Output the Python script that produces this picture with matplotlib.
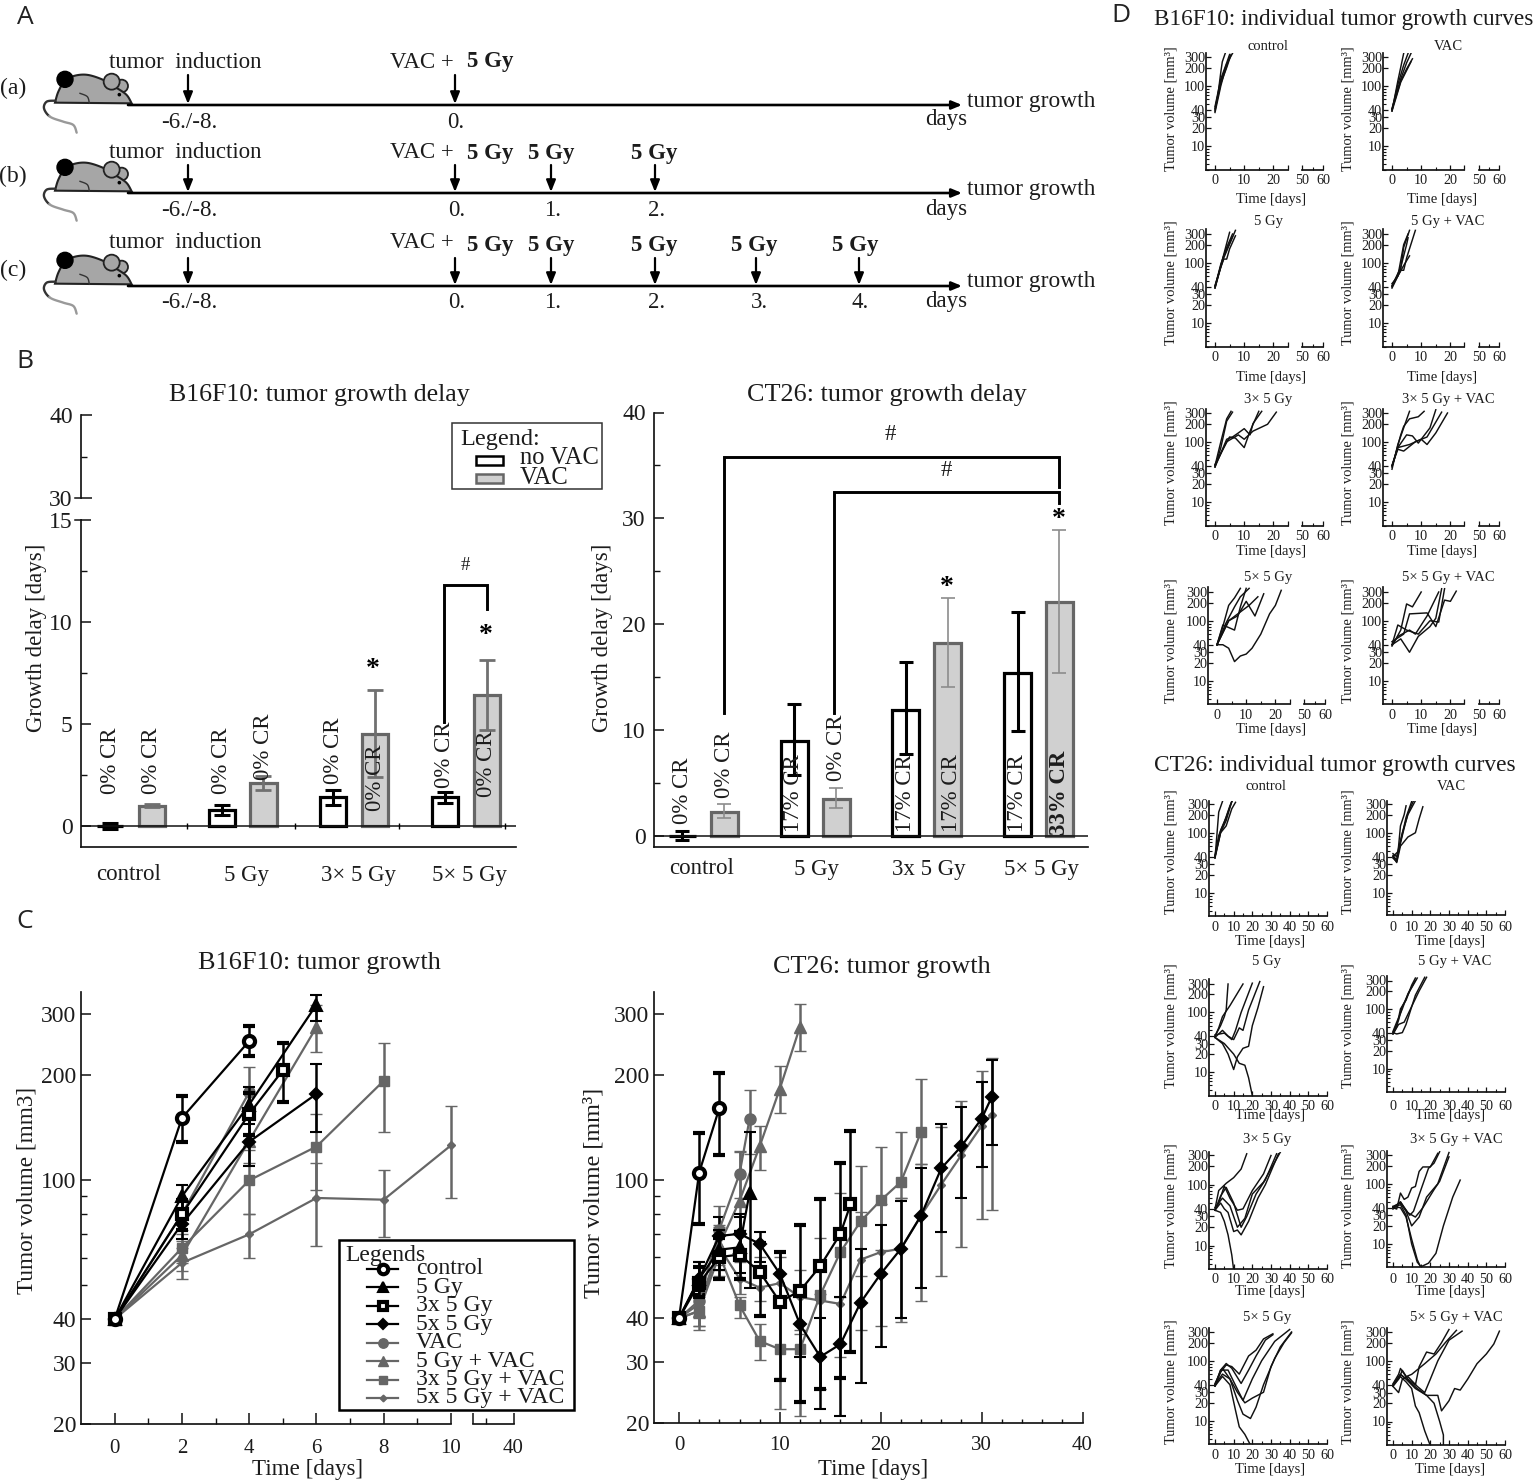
import numpy as np
import matplotlib
matplotlib.use('Agg')
import matplotlib.pyplot as plt
from matplotlib.patches import Polygon, Circle, Rectangle
from matplotlib.ticker import FixedLocator, FixedFormatter, NullFormatter

plt.rcParams['font.family'] = ['Liberation Serif', 'DejaVu Serif']
plt.rcParams['mathtext.fontset'] = 'stix'

W, H = 1535, 1481
INK = '#1c1c1c'
GRAY = '#666666'
plt.rcParams.update({'text.color': INK, 'axes.labelcolor': INK, 'xtick.labelcolor': INK,
                     'ytick.labelcolor': INK, 'axes.edgecolor': '#111111',
                     'xtick.color': '#111111', 'ytick.color': '#111111'})

# ---------------- DATA: growth delay (panel B) ----------------
groups_b16 = ['control', '5 Gy', '3× 5 Gy', '5× 5 Gy']
groups_ct26 = ['control', '5 Gy', '3x 5 Gy', '5× 5 Gy']
b16_novac = [0.0, 0.8, 1.4, 1.4]
b16_novac_lo = [-0.15, 0.55, 1.05, 1.15]
b16_novac_hi = [0.15, 1.05, 1.75, 1.65]
b16_vac = [1.0, 2.1, 4.5, 6.4]
b16_vac_lo = [0.93, 1.75, 2.4, 4.7]
b16_vac_hi = [1.07, 2.45, 6.65, 8.15]
b16_cr_novac = ['0% CR', '0% CR', '0% CR', '0% CR']
b16_cr_vac = ['0% CR', '0% CR', '0% CR', '0% CR']
b16_cr_novac_y = [1.55, 1.55, 2.05, 1.85]
b16_cr_vac_y = [1.55, 2.25, 0.75, 1.4]
ct_novac = [0.0, 9.0, 11.9, 15.4]
ct_novac_lo = [-0.4, 5.75, 7.7, 9.9]
ct_novac_hi = [0.45, 12.5, 16.4, 21.2]
ct_vac = [2.3, 3.5, 18.2, 22.1]
ct_vac_lo = [1.7, 2.65, 14.1, 15.4]
ct_vac_hi = [3.0, 4.5, 22.5, 28.9]
ct_cr_novac = ['0% CR', '17% CR', '17% CR', '17% CR']
ct_cr_vac = ['0% CR', '0% CR', '17% CR', '33% CR']
ct_cr_novac_y = [1.1, 0.4, 0.35, 0.35]
ct_cr_vac_y = [3.6, 5.2, 0.35, 0.1]

# ---------------- DATA: mean tumour growth (panel C) ----------------
names = ['control', '5 Gy', '3x 5 Gy', '5x 5 Gy', 'VAC', '5 Gy + VAC', '3x 5 Gy + VAC', '5x 5 Gy + VAC']
b_t = [[0, 2, 4], [0, 2, 4, 6], [0, 2, 4, 5], [0, 2, 4, 6], [0, 2, 4], [0, 2, 4, 6], [0, 2, 4, 6, 8], [0, 2, 4, 6, 8, 10]]
b_v = [[40, 151, 251], [40, 90, 165, 319], [40, 80, 155, 207], [40, 75, 129, 177],
       [40, 80, 179], [40, 61, 130, 275], [40, 64, 100, 125, 193], [40, 58, 70, 89, 88, 126]]
b_lo = [[39, 129, 227], [39, 79, 145, 286], [39, 72, 135, 168], [39, 68, 110, 138],
        [39, 72, 150], [39, 55, 112, 233], [39, 58, 80, 94, 138], [39, 52, 60, 65, 69, 89]]
b_hi = [[41, 174, 277], [41, 97, 185, 340], [41, 88, 178, 247], [41, 83, 155, 215],
        [41, 88, 212], [41, 67, 155, 319], [41, 70, 122, 155, 248], [41, 64, 80, 112, 107, 163]]
t_long = [0, 2, 4, 6, 8, 10, 12, 14, 16, 18, 20, 22, 24, 26, 28, 30, 31]
c_t = [[0, 2, 4], [0, 2, 4, 6, 7], [0, 2, 4, 6, 8, 10, 12, 14, 16, 17], t_long,
       [0, 2, 4, 6, 7], [0, 2, 4, 6, 8, 10, 12], [0, 2, 4, 6, 8, 10, 12, 14, 16, 18, 20, 22, 24], t_long]
c_v = [[40, 105, 161], [40, 52, 63, 64, 92], [40, 50.5, 60, 61, 54.4, 44.6, 48, 56.5, 70, 85],
       [40, 52, 69, 70, 65.5, 53.7, 38.4, 31, 33.7, 44.4, 53.7, 63.4, 79, 108, 125, 150, 173],
       [40, 45, 72, 104, 150], [40, 42, 65, 87, 125, 183, 276],
       [40, 42, 61, 43.6, 34.4, 32.6, 32.6, 46.7, 62, 76, 87.4, 98.7, 137.5],
       [40, 44, 64, 52, 49, 50.5, 46, 45, 44, 59, 62, 63.4, 79, 97, 118, 143, 154]]
c_lo = [[39, 74.5, 118], [39, 48, 55, 54, 49], [39, 46, 52, 52, 40.5, 26.6, 23, 25, 27, 32],
        [39, 47, 60, 62, 58, 45, 31, 22, 21, 26, 33, 40, 49, 71, 89, 109, 126],
        [39, 40, 61, 89, 119], [39, 38, 57, 72, 107, 156, 235],
        [39, 37, 53, 40, 30.3, 22, 21, 25, 46, 53, 63, 89, 111],
        [39, 38, 55, 47, 45, 27, 36, 25, 31, 37, 38, 39, 45, 53, 64, 77, 82]]
c_hi = [[41, 136, 203], [41, 58, 72, 78, 137], [41, 56, 68, 71, 66, 62, 74, 88, 112, 138],
        [41, 58, 78, 80, 71, 62, 49, 40, 46, 63.5, 74, 87, 108, 145, 162, 191, 221],
        [41, 50, 84, 121, 181], [41, 46, 74, 120, 143, 213, 320],
        [41, 47, 70, 46, 38.6, 45, 37, 68, 92, 110, 124, 137, 195],
        [41, 50, 73, 58, 60, 60, 55, 47, 69, 81, 85, 89, 111, 142, 169, 206, 224]]

# ---------------- DATA: individual curves (panel D) as (day, volume) ----------------
B_control = [[(0,38),(1,70),(2,170),(2.5,250),(3.5,345)], [(0,42),(2,120),(4,230),(6,345)], [(0,40),(2,110),(4,200),(5.5,330)],
             [(0,36),(2,100),(3,150),(5,300)], [(0,45),(2,130),(4,240),(5,330)]]
B_vac = [[(0,38),(2,120),(4,345)], [(0,40),(2,105),(4,220),(5.5,345)], [(0,42),(3,130),(5,240),(6.5,345)],
         [(0,40),(3,120),(5,190),(7,280)], [(0,38),(3,115),(6.5,250)]]
B_5 = [[(0,38),(2,90),(5,320)], [(0,40),(2,95),(4,180),(6,300)], [(0,42),(3,120),(7,345)],
       [(0,38),(2,85),(3,115),(4,115),(5,170),(7,280)], [(0,40),(3,130),(6,270)]]
B_5v = [[(0,38),(2,60),(4,200),(5.5,300)], [(0,42),(3,80),(4,180),(6,345)], [(0,40),(3,75),(4,75),(5,120),(8,345)],
        [(0,45),(2,60),(4,90),(6,130)], [(0,40),(3,85),(4,130),(5,200),(5.5,260)]]
B_3 = [[(0,40),(2,100),(4,240),(5.5,320)], [(0,38),(2,80),(4,220),(6,310)],
       [(0,42),(3,80),(5,120),(7,115),(10,80),(12,150),(15,320)],
       [(0,38),(4,110),(6,120),(8,140),(10,165),(12,130),(13,200),(16,320)],
       [(0,40),(4,100),(8,130),(10,110),(13,150),(18,195),(21,310)]]
B_3v = [[(0,38),(3,130),(4,180),(6,240),(9,260),(11,320)], [(0,35),(2,90),(4,170),(6,320)],
        [(0,40),(2,80),(5,130),(7,125),(9,95),(13,170),(15,340)], [(0,40),(2,75),(4,70),(8,100),(12,120),(17,310)],
        [(0,40),(2,80),(6,90),(10,110),(12,90),(15,140),(19,300)]]
B_5x = [[(0,40),(2,80),(4,180),(6,240),(8,345)], [(0,40),(3,90),(6,170),(8,250),(11,345)],
        [(0,40),(2,85),(6,70),(8,170),(10,345)], [(0,40),(4,100),(7,120),(10,210),(13,120),(16,280)],
        [(0,40),(4,100),(8,140),(11,180),(14,250)],
        [(0,40),(2,40),(4,35),(6,21),(8,26),(10,28),(12,35),(15,60),(18,130),(20,180),(22,320)]]
B_5xv = [[(0,38),(3,70),(5,190),(7,170),(10,300)], [(0,40),(2,85),(5,70),(9,60),(13,100),(16,95),(18,340)],
         [(0,40),(3,50),(6,30),(9,55),(13,80),(15,110),(17,340)],
         [(0,45),(4,60),(6,130),(12,135),(15,80),(18,220),(20,210),(22,310)], [(0,40),(2,55),(6,70),(8,60),(12,120),(16,300)]]
C_control = [[(0,38),(1,90),(2,220),(4,330)], [(0,40),(3,110),(6,180),(9,330)], [(0,38),(3,100),(6,130),(9,250),(11,320)],
             [(0,42),(2,90),(5,150),(8,280),(9,330)], [(0,40),(3,100),(6,160),(8,260),(9,330)]]
C_vac = [[(0,42),(2,35),(3,60),(4,130),(6,200),(7,280)], [(0,38),(2,33),(4,70),(7,180),(10,330)],
         [(0,45),(2,40),(5,100),(8,200),(12,340)], [(0,40),(2,32),(4,60),(8,85),(12,100),(14,170),(16,270)],
         [(0,40),(3,50),(6,120),(8,210),(11,340)]]
C_5 = [[(0,40),(3,60),(5,85),(6,110),(7,300)], [(0,40),(2,55),(4,85),(8,130),(15,300)],
       [(0,42),(5,45),(9,35),(11,50),(14,100),(20,310)], [(0,38),(4,50),(7,40),(10,35),(13,55),(15,50),(18,110),(24,330)],
       [(0,38),(4,30),(7,20),(10,11),(12,18),(15,25),(18,27),(20,60),(23,120),(26,270)],
       [(0,38),(5,30),(10,20),(13,14),(16,13),(18,8),(20,4)]]
C_5v = [[(0,38),(2,50),(4,100),(7,140),(10,250),(12,330)], [(0,40),(3,65),(5,110),(9,200),(13,330)],
        [(0,42),(2,60),(5,100),(8,180),(12,300)], [(0,40),(2,38),(5,40),(7,55),(12,170),(17,340)],
        [(0,38),(3,55),(6,60),(10,110),(14,200),(18,340)]]
C_3 = [[(0,40),(2,80),(6,105),(10,130),(14,180),(17,320)], [(0,38),(2,50),(5,95),(8,60),(12,38),(15,40),(20,80),(26,150),(30,300)],
       [(0,38),(3,65),(6,90),(10,50),(14,20),(17,30),(22,70),(27,120),(33,320)],
       [(0,38),(3,50),(5,40),(7,35),(10,17),(12,18),(14,15),(18,25),(23,60),(27,100),(34,320)],
       [(0,42),(4,60),(8,45),(12,20),(16,28),(20,70),(26,110),(35,340)], [(0,38),(3,35),(5,25),(7,15),(9,7),(10,4)]]
C_3v = [[(0,40),(2,38),(4,70),(6,55),(8,60),(10,85),(12,90),(14,160),(16,190),(20,190),(24,320)],
        [(0,40),(4,50),(6,40),(9,30),(11,35),(15,80),(19,180),(22,220),(25,340)],
        [(0,42),(4,48),(7,35),(10,20),(14,28),(18,60),(24,100),(30,330)], [(0,38),(4,50),(8,33),(12,28),(16,40),(22,80),(25,110),(30,280)],
        [(0,40),(4,45),(7,30),(10,10),(13,5),(15,4.2),(19,4.8),(23,7),(27,20),(32,60),(36,115)],
        [(0,42),(4,40),(7,28),(10,12),(13,5.5),(15,4)]]
C_5x = [[(0,38),(3,65),(6,85),(9,80),(13,60),(18,120),(22,150),(26,230),(31,280)],
        [(0,38),(3,70),(6,90),(9,75),(14,42),(18,70),(22,120),(27,220),(31,270)],
        [(0,40),(3,70),(7,70),(10,45),(15,22),(20,50),(25,100),(32,210),(40,330)],
        [(0,40),(4,60),(8,50),(12,30),(16,20),(20,24),(26,30),(30,80),(35,170),(41,300)],
        [(0,42),(4,75),(8,50),(12,22),(15,13),(19,11),(22,17),(26,40),(32,110),(37,200),(41,290)],
        [(0,38),(4,55),(8,40),(11,15),(13,8),(16,6),(19,4)]]
C_5xv = [[(0,38),(3,50),(5,70),(8,50),(12,40),(14,80),(18,140),(22,130),(26,200),(30,330)],
         [(0,42),(3,60),(4,75),(7,55),(10,60),(17,90),(23,130),(28,200),(34,320)],
         [(0,38),(3,30),(5,50),(8,55),(13,38),(17,30),(20,50),(24,100),(30,220),(37,310)],
         [(0,40),(4,60),(7,50),(12,35),(18,27),(24,27),(26,15),(30,22),(33,35),(36,33),(40,50),(45,90),(50,130),(54,190),(57,310)],
         [(0,40),(4,55),(7,45),(10,35),(12,18),(14,14),(17,7),(20,4)],
         [(0,40),(4,60),(8,48),(13,35),(18,27),(22,20),(25,10),(27,6),(27,4)]]

# ---------------- figure helpers ----------------
fig = plt.figure(figsize=(W / 100, H / 100), dpi=100, facecolor='white')
ov = fig.add_axes([0, 0, 1, 1], zorder=20)
ov.set_xlim(0, W); ov.set_ylim(H, 0); ov.axis('off'); ov.patch.set_alpha(0)
PT = 72 / 100  # points per pixel
REND = fig.canvas.get_renderer()


def fit(t, px):
    bb = t.get_window_extent(REND)
    t.set_fontsize(t.get_fontsize() * px / max(bb.width, bb.height))
    return t


def ax_px(l, r, t, b):
    a = fig.add_axes([l / W, 1 - b / H, (r - l) / W, (b - t) / H])
    a.patch.set_alpha(0)
    for s in ('top', 'right'):
        a.spines[s].set_visible(False)
    for s in ('left', 'bottom'):
        a.spines[s].set_linewidth(1.7 * PT)
    return a


def T(x, y, s, size=16.5, ha='center', va='center', **kw):
    return ov.text(x, y, s, fontsize=size, ha=ha, va=va, **kw)


def ylab(a, s, x, y, size, px=None):
    t = a.set_ylabel(s, fontsize=size, va='center', ha='center')
    a.yaxis.set_label_coords(x, y, transform=ov.transData)
    if px:
        fit(t, px)


def xlab(a, s, x, y, size, px=None):
    t = a.set_xlabel(s, fontsize=size, va='center', ha='center')
    a.xaxis.set_label_coords(x, y, transform=ov.transData)
    if px:
        fit(t, px)


def smooth(pts, n=12):
    p = np.array(pts, float)
    q = np.vstack([p[0], p, p[-1]])
    out = []
    for i in range(1, len(q) - 2):
        for u in np.linspace(0, 1, n, endpoint=False):
            out.append(0.5 * ((2 * q[i]) + (-q[i - 1] + q[i + 1]) * u +
                              (2 * q[i - 1] - 5 * q[i] + 4 * q[i + 1] - q[i + 2]) * u ** 2 +
                              (-q[i - 1] + 3 * q[i] - 3 * q[i + 1] + q[i + 2]) * u ** 3))
    out.append(p[-1])
    return np.array(out)


def mouse(dy):
    def m(pts):
        a = np.array(pts, float)
        return np.c_[30 + a[:, 0] / 3, 60 + a[:, 1] / 3 + dy]
    tail = smooth(m([(75, 122), (50, 125), (42, 145), (60, 170), (100, 185), (130, 195), (140, 218)]))
    k = len(tail) // 2
    ov.plot(tail[:k, 0], tail[:k, 1], color='#333333', lw=1.7, solid_capstyle='round')
    ov.plot(tail[k - 1:, 0], tail[k - 1:, 1], color='#999999', lw=1.7, solid_capstyle='round')
    ov.add_patch(Circle(m([(275, 78)])[0], 19 / 3, fc='#a6a6a6', ec='#222222', lw=1.3))
    body = smooth(m([(75, 128), (85, 95), (105, 62), (135, 47), (175, 45), (225, 62), (262, 85), (290, 105), (305, 130)]))
    ov.add_patch(Polygon(body, closed=True, fc='#a6a6a6', ec='#222222', lw=1.5))
    ov.add_patch(Circle(m([(245, 65)])[0], 24 / 3, fc='#a6a6a6', ec='#222222', lw=1.3, zorder=4))
    ov.plot(*smooth(m([(150, 100), (172, 110), (178, 130)])).T, color='#333333', lw=1)
    ov.add_patch(Circle(m([(105, 58)])[0], 24 / 3, fc='black', ec='black', zorder=5))
    ov.add_patch(Circle(m([(268, 104)])[0], 1.1, fc='black', ec='black', zorder=5))


def arrow(x, y0, y1, lw=1.6):
    ov.annotate('', xy=(x, y1), xytext=(x, y0),
                arrowprops=dict(arrowstyle='-|>,head_width=0.28,head_length=0.7', color='black', lw=lw, shrinkA=0, shrinkB=0))

# ---------------- panel A ----------------
for s, x, y in (('A', 25, 17), ('B', 25, 361), ('C', 25, 921), ('D', 1121, 15)):
    T(x, y, s, size=19, family='Open Sans', color='#222222')

rows = [dict(base=105, lab='(a)', ly=88, top=62, tb=62, at=75, ty=122, gy=101, dy=120, doses=[467], arrows=[455], nums=[('0.', 456)]),
        dict(base=193, lab='(b)', ly=176, top=152, tb=153, at=165, ty=210, gy=190, dy=210, doses=[467, 528, 631], arrows=[455, 551, 655],
             nums=[('0.', 457), ('1.', 553), ('2.', 657)]),
        dict(base=286, lab='(c)', ly=270, top=243, tb=245, at=258, ty=302, gy=282, dy=301, doses=[467, 528, 631, 731, 832],
             arrows=[455, 551, 655, 756, 859], nums=[('0.', 457), ('1.', 553), ('2.', 657), ('3.', 759), ('4.', 860)])]
for i, r in enumerate(rows):
    mouse(r['base'] - 105)
    ov.annotate('', xy=(962, r['base']), xytext=(128, r['base']),
                arrowprops=dict(arrowstyle='-|>,head_width=0.25,head_length=0.6', color='black', lw=1.9, shrinkA=0, shrinkB=0))
    T(13, r['ly'], r['lab'], size=17)
    T(109, r['top'], 'tumor  induction', ha='left')
    T(189, r['ty'], '-6./-8.')
    arrow(188, r['at'], r['base'] - 1)
    T(390, r['top'], 'VAC +', ha='left')
    for x in r['doses']:
        T(x, r['tb'], '5 Gy', ha='left', fontweight='bold')
    for x in r['arrows']:
        arrow(x, r['at'], r['base'] - 1)
    for s, x in r['nums']:
        T(x, r['ty'], s)
    T(967, r['gy'], 'tumor growth', ha='left', size=16.8)
    T(946, r['dy'], 'days')

# ---------------- panel B ----------------
BLK_LW, BAR_LW = 2.2, 2.3
CR_FS = 16.5


def bars(a, nv, nl, nh, v, vl, vh, off, width, gray_lw, cap):
    g = np.arange(4)
    a.bar(g - off, nv, width, fc='white', ec='black', lw=BAR_LW, zorder=2)
    a.bar(g + off, v, width, fc='#d0d0d0', ec=GRAY, lw=BAR_LW, zorder=2)
    a.errorbar(g - off, nv, yerr=[np.array(nv) - nl, np.array(nh) - nv], fmt='none', ecolor='black',
               elinewidth=BLK_LW, capsize=cap, capthick=BLK_LW, zorder=3)
    a.errorbar(g + off, v, yerr=[np.array(v) - vl, np.array(vh) - v], fmt='none', ecolor='#707070' if gray_lw > 1.5 else '#8c8c8c',
               elinewidth=gray_lw, capsize=cap, capthick=gray_lw, zorder=3)
    a.axhline(0, color='#111111', lw=1.1, zorder=4)


def bracket(xs, ys, lw=2.1):
    ov.plot(xs, ys, color='black', lw=lw, solid_joinstyle='miter')


# left: broken axis
a = ax_px(81, 516, 520, 847)
ppu = (826 - 520) / 15
a.set_ylim(-(847 - 826) / ppu, 15)
a.set_xlim((81 - 131) / 111.6, (516 - 131) / 111.6)
bars(a, b16_novac, b16_novac_lo, b16_novac_hi, b16_vac, b16_vac_lo, b16_vac_hi, 0.187, 0.235, 2.0, 6)
a.set_xticks([])
a.yaxis.set_major_locator(FixedLocator([0, 5, 10, 15]))
a.yaxis.set_minor_locator(FixedLocator([2.5, 7.5, 12.5]))
a.tick_params(axis='y', which='major', direction='in', length=7, width=1.1, labelsize=17, pad=6)
a.tick_params(axis='y', which='minor', direction='in', length=4, width=1)
ylab(a, 'Growth delay [days]', 37, 638, 16.5)
a.plot([0.5, 1.47, 2.4, 3.35], [0, 0, 0, 0], '|', color='black', ms=4, mew=1, zorder=5)
for i in range(4):
    a.text(i - 0.187, b16_cr_novac_y[i], b16_cr_novac[i], rotation=90, ha='center', va='bottom', fontsize=CR_FS, zorder=6)
    a.text(i + 0.187, b16_cr_vac_y[i], b16_cr_vac[i], rotation=90, ha='center', va='bottom', fontsize=CR_FS, zorder=6)
u = ax_px(81, 516, 415.5, 498)
u.set_ylim(30, 40); u.set_xlim(0, 1); u.set_xticks([])
u.spines['bottom'].set_visible(False)
u.yaxis.set_major_locator(FixedLocator([30, 40]))
u.yaxis.set_minor_locator(FixedLocator([35]))
u.tick_params(axis='y', which='major', direction='in', length=8, width=1.1, labelsize=17, pad=6)
u.tick_params(axis='y', which='minor', direction='in', length=4, width=1)
for y in (498, 520):
    ov.plot([75, 81], [y, y], color='#111111', lw=1.1)
fit(T(319, 395, 'B16F10: tumor growth delay', size=17.5), 301)
for s, x in zip(groups_b16, [129, 246, 358.6, 470]):
    T(x, 875, s, size=16.5)
bracket([444, 444, 487, 487], [722, 585, 585, 609])
T(465, 566, '#', size=13.5)
T(373, 669, '*', size=20, fontweight='bold', color='black')
T(486, 636, '*', size=20, fontweight='bold', color='black')
ov.add_patch(Rectangle((451.5, 422.5), 150.5, 66.5, fc='white', ec='#333333', lw=1.1, zorder=6))
T(460, 439, 'Legend:', size=17.5, ha='left', zorder=7)
ov.add_patch(Rectangle((476, 456), 27, 9, fc='white', ec='black', lw=1.8, zorder=7))
ov.add_patch(Rectangle((476, 473.5), 27, 9, fc='#d0d0d0', ec=GRAY, lw=1.8, zorder=7))
T(520, 458, 'no VAC', size=17.7, ha='left', zorder=7)
T(520, 478, 'VAC', size=17.7, ha='left', zorder=7)

# right
a = ax_px(654, 1088.5, 412.5, 846.7)
ppu = (836 - 412.5) / 40
a.set_ylim(-(846.7 - 836) / ppu, 40)
a.set_xlim((654 - 703.4) / 111.7, (1088.5 - 703.4) / 111.7)
bars(a, ct_novac, ct_novac_lo, ct_novac_hi, ct_vac, ct_vac_lo, ct_vac_hi, 0.188, 0.24, 1.2, 5)
a.set_xticks([])
a.yaxis.set_major_locator(FixedLocator([0, 10, 20, 30, 40]))
a.yaxis.set_minor_locator(FixedLocator([5, 15, 25, 35]))
a.tick_params(axis='y', which='major', direction='in', length=7, width=1.1, labelsize=17, pad=6)
a.tick_params(axis='y', which='minor', direction='in', length=4, width=1)
ylab(a, 'Growth delay [days]', 602.6, 638, 16.5)
for i in range(4):
    a.text(i - 0.19, ct_cr_novac_y[i], ct_cr_novac[i], rotation=90, ha='center', va='bottom', fontsize=CR_FS, zorder=6)
    a.text(i + 0.19 + (0.03 if i == 2 else 0), ct_cr_vac_y[i], ct_cr_vac[i], rotation=90, ha='center', va='bottom', fontsize=CR_FS, zorder=6,
           fontweight='bold' if ct_cr_vac[i].startswith('33') else 'normal')
fit(T(887, 395, 'CT26: tumor growth delay', size=17.5), 279)
for s, x in zip(groups_ct26, [702, 817, 929, 1041.7]):
    T(x, 869, s, size=16.5)
bracket([724.3, 724.3, 1058.7, 1058.7], [713, 456.6, 456.6, 487])
bracket([834.4, 834.4, 1058.7, 1058.7], [713, 492.4, 492.4, 503])
T(890, 434, '#', size=16.5)
T(946, 470, '#', size=16.5)
T(947, 588, '*', size=20, fontweight='bold', color='black')
T(1059, 519, '*', size=20, fontweight='bold', color='black')

# ---------------- panel C ----------------
styles = [dict(c='black', m='o', ms=8, mfc='white', mew=3), dict(c='black', m='^', ms=8, mfc='black', mew=1.5),
          dict(c='black', m='s', ms=7.5, mfc='white', mew=3), dict(c='black', m='D', ms=6, mfc='black', mew=1.5),
          dict(c=GRAY, m='o', ms=8, mfc=GRAY, mew=1), dict(c=GRAY, m='^', ms=8, mfc=GRAY, mew=1),
          dict(c=GRAY, m='s', ms=7.5, mfc=GRAY, mew=1), dict(c=GRAY, m='D', ms=4, mfc=GRAY, mew=1)]


def series(a, t, v, lo, hi, cap):
    for k in range(len(t)):
        s = styles[k]
        vv = np.array(v[k], float)
        a.errorbar(t[k], vv, yerr=[vv - lo[k], np.array(hi[k], float) - vv], color=s['c'], lw=1.6,
                   elinewidth=1.8, capsize=cap, capthick=1.6, marker=s['m'], ms=s['ms'], mfc=s['mfc'], mec=s['c'], mew=s['mew'],
                   zorder=3 + (8 - k) * 0.1, clip_on=False)


def log_y(a, top_px, bot_px):
    ppl = (bot_px - 1014.0) / np.log(15)
    a.set_yscale('log')
    a.set_ylim(20, 300 * np.exp((1014.0 - top_px) / ppl))
    a.yaxis.set_major_locator(FixedLocator([20, 30, 40, 100, 200, 300]))
    a.yaxis.set_major_formatter(FixedFormatter(['20', '30', '40', '100', '200', '300']))
    a.yaxis.set_minor_locator(FixedLocator([50, 60, 70, 80, 90]))
    a.yaxis.set_minor_formatter(NullFormatter())
    a.tick_params(axis='y', which='major', direction='in', length=7, width=1.1, labelsize=17, pad=3.5)
    a.tick_params(axis='y', which='minor', direction='in', length=4, width=1)


a = ax_px(81, 451, 992, 1424)
a.set_xlim((81 - 114.7) / 33.63, 10)
log_y(a, 992, 1424)
series(a, b_t, b_v, b_lo, b_hi, 4)
a.set_xticks([0, 2, 4, 6, 8, 10])
a.xaxis.set_minor_locator(FixedLocator([1, 3, 5, 7, 9]))
a.tick_params(axis='x', which='major', direction='in', length=8, width=1.1, labelsize=15, pad=10.5)
a.tick_params(axis='x', which='minor', direction='in', length=4, width=1)
ylab(a, 'Tumor volume [mm3]', 27, 1190, 17, 207)
xlab(a, 'Time [days]', 308, 1469, 16.5, 111)
a2 = ax_px(472.8, 513.5, 1380, 1424)
a2.spines['left'].set_visible(False)
a2.set_yticks([]); a2.set_xlim(37, 40)
a2.set_xticks([37, 40]); a2.set_xticklabels(['', '40'])
a2.xaxis.set_minor_locator(FixedLocator([38]))
a2.tick_params(axis='x', which='major', direction='in', length=8, width=1.1, labelsize=15, pad=10.5)
a2.tick_params(axis='x', which='minor', direction='in', length=4, width=1)
fit(T(319, 963, 'B16F10: tumor growth', size=17.5), 242)

# legend of C
ov.add_patch(Rectangle((339, 1240), 235, 170, fc='white', ec='black', lw=1.8, zorder=6))
T(345, 1255, 'Legends', size=17, ha='left', zorder=7)
for nm, s, y in zip(names, styles, np.linspace(1269, 1398, 8)):
    ov.plot([367, 398], [y, y], color=s['c'], lw=1.6, zorder=7)
    ov.plot([382.5], [y], marker=s['m'], ms=s['ms'] * 0.85, mfc=s['mfc'], mec=s['c'], mew=s['mew'], color=s['c'], zorder=8)
    T(416, y, nm, size=17.1, ha='left', zorder=7)

a = ax_px(654, 1082.5, 992, 1423)
a.set_xlim((654 - 679) / 10.09, 40)
log_y(a, 992, 1423)
series(a, c_t, c_v, c_lo, c_hi, 4)
a.set_xticks([0, 10, 20, 30, 40])
a.xaxis.set_minor_locator(FixedLocator(np.arange(2, 40, 2)))
a.tick_params(axis='x', which='major', direction='in', length=8, width=1.1, labelsize=15, pad=9)
a.tick_params(axis='x', which='minor', direction='in', length=3, width=1)
ylab(a, 'Tumor volume [mm³]', 594, 1193, 17, 210)
xlab(a, 'Time [days]', 873.6, 1469, 16.5, 110)
fit(T(882, 967, 'CT26: tumor growth', size=17.5), 217)

# ---------------- panel D ----------------
FS = 10.2


def ind(curves, title, tx, ty, spine, x0, x_end, axis_y, y300, y10, top, tick_y, lab_x, lab_y, ylab_x, ylab_y,
        px_per_day, broken=None):
    a = ax_px(spine, x_end, top, axis_y)
    a.set_xlim(-(x0 - spine) / px_per_day, (x_end - x0) / px_per_day)
    dec = (y10 - y300) / np.log10(30)
    a.set_yscale('log')
    a.set_ylim(10 * 10 ** (-(axis_y - y10) / dec), 300 * 10 ** ((y300 - top) / dec))
    for c in curves:
        d = np.array(c, float)
        a.plot(d[:, 0], d[:, 1], color='#111111', lw=1.05)
    a.yaxis.set_major_locator(FixedLocator([10, 20, 30, 40, 100, 200, 300]))
    a.yaxis.set_major_formatter(FixedFormatter(['10', '20', '30', '40', '100', '200', '300']))
    a.yaxis.set_minor_locator(FixedLocator([4, 5, 6, 7, 8, 9, 50, 60, 70, 80, 90]))
    a.yaxis.set_minor_formatter(NullFormatter())
    a.tick_params(axis='y', which='major', direction='in', length=3.5, width=0.9, labelsize=FS, pad=0.5)
    a.tick_params(axis='y', which='minor', direction='in', length=2, width=0.8)
    if broken:
        a.set_xticks([0, 10, 20, (x_end - x0) / px_per_day])
        a.set_xticklabels(['0', '10', '20', ''])
        a.xaxis.set_minor_locator(FixedLocator([5, 15]))
    else:
        a.set_xticks(np.arange(0, 61, 10))
        a.xaxis.set_minor_locator(FixedLocator(np.arange(5, 60, 10)))
    pad = tick_y - axis_y - 5 - 2
    a.tick_params(axis='x', which='major', direction='in', length=3.5, width=0.9, labelsize=FS, pad=pad * PT)
    a.tick_params(axis='x', which='minor', direction='in', length=2, width=0.8)
    ylab(a, 'Tumor volume [mm³]', ylab_x, ylab_y, FS + 0.3, 125)
    xlab(a, 'Time [days]', lab_x, lab_y, FS + 0.3, 70)
    T(tx, ty, title, size=FS + 0.3)
    if broken:
        b = ax_px(broken[0], broken[1], axis_y - 20, axis_y)
        b.spines['left'].set_visible(False)
        b.set_yticks([]); b.set_xlim(50, 60)
        b.set_xticks([50, 60])
        b.xaxis.set_minor_locator(FixedLocator([55]))
        b.tick_params(axis='x', which='major', direction='in', length=3.5, width=0.9, labelsize=FS, pad=pad * PT)
        b.tick_params(axis='x', which='minor', direction='in', length=2, width=0.8)


fit(T(1154, 20, 'B16F10: individual tumor growth curves', size=15.5, ha='left'), 379)
fit(T(1154, 765, 'CT26: individual tumor growth curves', size=15.5, ha='left'), 360)

# B16F10 (broken x axes)
L = dict(spine=1206, x0=1215, x_end=1288, px_per_day=2.92, broken=(1302, 1323), lab_x=1271, ylab_x=1171)
R = dict(spine=1383, x0=1392, x_end=1464, px_per_day=2.92, broken=(1479, 1499), lab_x=1442, ylab_x=1348)
ind(B_control, 'control', 1268, 46, axis_y=170, y300=57, y10=146, top=53, tick_y=181, lab_y=200, ylab_y=109, **L)
ind(B_vac, 'VAC', 1448, 46, axis_y=170, y300=57, y10=146, top=53, tick_y=181, lab_y=200, ylab_y=109, **R)
ind(B_5, '5 Gy', 1268, 221, axis_y=347, y300=234, y10=323, top=229, tick_y=358, lab_y=377, ylab_y=283, **L)
ind(B_5v, '5 Gy + VAC', 1448, 221, axis_y=347, y300=234, y10=323, top=229, tick_y=358, lab_y=377, ylab_y=283, **R)
ind(B_3, '3× 5 Gy', 1268, 400, axis_y=526, y300=413, y10=502, top=409, tick_y=537, lab_y=552, ylab_y=463, **L)
ind(B_3v, '3× 5 Gy + VAC', 1448, 400, axis_y=526, y300=413, y10=502, top=409, tick_y=537, lab_y=552, ylab_y=463, **R)
L4 = dict(L, spine=1208, x0=1217, x_end=1290, broken=(1304, 1325))
ind(B_5x, '5× 5 Gy', 1268, 577, axis_y=704, y300=592, y10=681, top=587, tick_y=716, lab_y=730, ylab_y=641, **L4)
ind(B_5xv, '5× 5 Gy + VAC', 1448, 577, axis_y=704, y300=592, y10=681, top=587, tick_y=716, lab_y=730, ylab_y=641, **R)

# CT26 (continuous x axes)
CL = dict(spine=1209, x0=1215, x_end=1327, px_per_day=1.87, lab_x=1270, ylab_x=1171)
CR = dict(spine=1387, x0=1393, x_end=1505, px_per_day=1.87, lab_x=1450, ylab_x=1348)
ind(C_control, 'control', 1266, 787, axis_y=916, y300=804, y10=893, top=801, tick_y=928, lab_y=941, ylab_y=852, **CL)
ind(C_vac, 'VAC', 1451, 787, axis_y=915, y300=804, y10=893, top=801, tick_y=928, lab_y=941, ylab_y=852, **CR)
ind(C_5, '5 Gy', 1267, 962, axis_y=1095.6, y300=984, y10=1072, top=979, tick_y=1106.5, lab_y=1116, ylab_y=1026, **CL)
ind(C_5v, '5 Gy + VAC', 1455, 962, axis_y=1092, y300=980.5, y10=1068.5, top=976, tick_y=1106.5, lab_y=1116, ylab_y=1026, **CR)
ind(C_3, '3× 5 Gy', 1267, 1140, axis_y=1269, y300=1155.5, y10=1245.6, top=1152, tick_y=1280, lab_y=1292, ylab_y=1205.7, **CL)
ind(C_3v, '3× 5 Gy + VAC', 1456, 1140, axis_y=1267, y300=1155, y10=1244, top=1151, tick_y=1280, lab_y=1292, ylab_y=1205.7, **CR)
ind(C_5x, '5× 5 Gy', 1267, 1317, axis_y=1444, y300=1332, y10=1421, top=1328, tick_y=1455.6, lab_y=1470, ylab_y=1382, **CL)
ind(C_5xv, '5× 5 Gy + VAC', 1456, 1317, axis_y=1445, y300=1332, y10=1421.5, top=1328, tick_y=1455.6, lab_y=1470, ylab_y=1382, **CR)

fig.savefig('out.png', dpi=100)
